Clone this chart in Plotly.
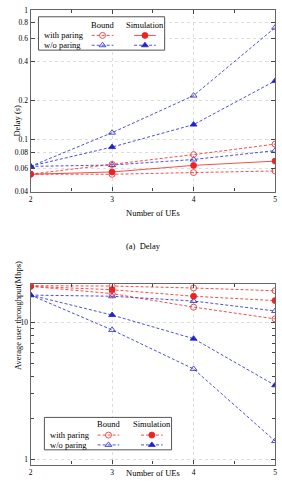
import plotly.graph_objects as go

ues = [2, 3, 4, 5]

# Delay (s)
delay_wp_bound_hi = [0.0545, 0.0647, 0.077, 0.0927]
delay_wp_sim = [0.0543, 0.0566, 0.0636, 0.0686]
delay_wp_bound_lo = [0.0545, 0.0543, 0.056, 0.0576]
delay_wo_bound_hi = [0.0625, 0.1135, 0.219, 0.73]
delay_wo_sim = [0.0628, 0.088, 0.131, 0.284]
delay_wo_bound_lo = [0.0625, 0.064, 0.0706, 0.0826]

# Average user throughput (Mbps)
thr_wp_bound_hi = [18.5, 18.4, 17.8, 17.0]
thr_wp_sim = [18.3, 17.3, 15.5, 14.4]
thr_wp_bound_lo = [18.3, 16.2, 12.9, 10.6]
thr_wo_bound_hi = [15.8, 15.5, 14.3, 12.1]
thr_wo_sim = [15.8, 11.3, 7.6, 3.47]
thr_wo_bound_lo = [15.8, 8.8, 4.57, 1.36]

RED = "#ee2222"
BLUE = "#2222cc"
FONT = "Liberation Serif"

W, H = 282, 500
fig = go.Figure()

def add(x, y, color, sym, dash, xa, ya):
    fig.add_trace(go.Scatter(
        x=x, y=y, mode="lines+markers", xaxis=xa, yaxis=ya, showlegend=False,
        line=dict(color=color, width=0.8, dash=dash),
        marker=dict(symbol=sym, size=6, color=color, line=dict(color=color, width=0.8)),
    ))

# top panel
add(ues, delay_wo_bound_hi, BLUE, "triangle-up-open", "3px,2px", "x", "y")
add(ues, delay_wo_sim, BLUE, "triangle-up", "3px,2px", "x", "y")
add(ues, delay_wo_bound_lo, BLUE, "triangle-up-open", "3px,2px", "x", "y")
add(ues, delay_wp_bound_hi, RED, "circle-open", "3px,2px", "x", "y")
add(ues, delay_wp_sim, RED, "circle", "solid", "x", "y")
add(ues, delay_wp_bound_lo, RED, "circle-open", "3px,2px", "x", "y")

# bottom panel
add(ues, thr_wo_bound_hi, BLUE, "triangle-up-open", "3px,2px", "x2", "y2")
add(ues, thr_wo_sim, BLUE, "triangle-up", "3px,2px", "x2", "y2")
add(ues, thr_wo_bound_lo, BLUE, "triangle-up-open", "3px,2px", "x2", "y2")
add(ues, thr_wp_bound_hi, RED, "circle-open", "3px,2px", "x2", "y2")
add(ues, thr_wp_sim, RED, "circle", "3px,2px", "x2", "y2")
add(ues, thr_wp_bound_lo, RED, "circle-open", "3px,2px", "x2", "y2")

# legend samples on an overlay pixel axis
def leg_sample(x0, x1, y, color, sym, dash):
    fig.add_trace(go.Scatter(
        x=[x0, (x0 + x1) / 2, x1], y=[y, y, y], mode="lines", xaxis="x3", yaxis="y3",
        showlegend=False, line=dict(color=color, width=0.8, dash=dash), hoverinfo="skip"))
    fig.add_trace(go.Scatter(
        x=[(x0 + x1) / 2], y=[y], mode="markers", xaxis="x3", yaxis="y3", showlegend=False,
        marker=dict(symbol=sym, size=6, color=color, line=dict(color=color, width=0.8)),
        hoverinfo="skip"))

shapes = []
annos = []

def legend(bx0, by0, bx1, by1, hy, r1, r2, bcx, scx, sim_dash):
    shapes.append(dict(type="rect", xref="x3", yref="y3", x0=bx0, y0=by0, x1=bx1, y1=by1,
                       line=dict(color="#555", width=1), fillcolor="white", layer="below"))
    annos.append(dict(x=bcx, y=hy, text="Bound"))
    annos.append(dict(x=scx, y=hy, text="Simulation"))
    annos.append(dict(x=bx0 + 4, y=r1, text="with paring", xanchor="left"))
    annos.append(dict(x=bx0 + 4, y=r2, text="w/o paring", xanchor="left"))
    leg_sample(bcx - 11, bcx + 11, r1, RED, "circle-open", "3px,2px")
    leg_sample(bcx - 11, bcx + 11, r2, BLUE, "triangle-up-open", "3px,2px")
    leg_sample(scx - 11, scx + 11, r1, RED, "circle", sim_dash)
    leg_sample(scx - 11, scx + 11, r2, BLUE, "triangle-up", "3px,2px")

legend(37, 13, 165, 47, 21, 32, 42, 102, 145, "solid")
legend(43, 421, 172, 454, 428, 439, 449, 108, 152, "3px,2px")

for a in annos:
    a.update(xref="x3", yref="y3", showarrow=False, font=dict(family=FONT, size=8.5, color="black"))
    a.setdefault("xanchor", "center")

# titles
annos += [
    dict(x=0.03, y=1 - 100 / H, xref="paper", yref="paper", text="Delay (<i>s</i>)", textangle=-90,
         showarrow=False, font=dict(family=FONT, size=8.5, color="black")),
    dict(x=153 / W, y=1 - 213 / H, xref="paper", yref="paper", text="Number of UEs",
         showarrow=False, font=dict(family=FONT, size=8.5, color="black")),
    dict(x=144 / W, y=1 - 246 / H, xref="paper", yref="paper", text="(a)  Delay",
         showarrow=False, font=dict(family=FONT, size=8.5, color="black")),
    dict(x=0.03, y=1 - 375 / H, xref="paper", yref="paper", text="Average user throughput(Mbps)",
         textangle=-90, showarrow=False, font=dict(family=FONT, size=8.5, color="black")),
    dict(x=153 / W, y=1 - 485 / H, xref="paper", yref="paper", text="Number of UEs",
         showarrow=False, font=dict(family=FONT, size=8.5, color="black")),
]

xdom = [29 / W, 277 / W]
tickfont = dict(family=FONT, size=7.5, color="black")
grid = dict(showgrid=True, gridcolor="#dddddd", griddash="dot", gridwidth=0.8)
common_x = dict(domain=xdom, range=[2, 5], tickvals=ues, ticktext=[str(u) for u in ues],
                ticks="inside", ticklen=4, showline=True, linecolor="#666", linewidth=1.2,
                mirror="allticks", tickfont=tickfont, zeroline=False,
                minor=dict(tickvals=[2.5, 3.5, 4.5], ticks="inside", ticklen=3, showgrid=False),
                **grid)

dvals = [0.04, 0.06, 0.08, 0.1, 0.2, 0.4, 0.6, 0.8, 1]
fig.update_layout(
    width=W, height=H, margin=dict(l=0, r=0, t=0, b=0),
    plot_bgcolor="rgba(0,0,0,0)", paper_bgcolor="white",
    xaxis=dict(anchor="y", **common_x),
    yaxis=dict(domain=[1 - 191 / H, 1 - 6 / H], type="log", range=[-1.398, 0],
               tickvals=dvals, ticktext=[("%g" % v) for v in dvals], ticks="inside", ticklen=4,
               showline=True, linecolor="#666", linewidth=1.2, mirror="allticks",
               tickfont=tickfont, zeroline=False, **grid),
    xaxis2=dict(anchor="y2", **common_x),
    yaxis2=dict(domain=[1 - 469 / H, 1 - 285.5 / H], type="log", range=[-0.038, 1.277],
                tickvals=[1, 10], ticktext=["1", "10"], ticks="inside", ticklen=4,
                showline=True, linecolor="#666", linewidth=1.2, mirror="allticks",
                tickfont=tickfont, zeroline=False,
                minor=dict(tickvals=[2, 3, 4, 5, 6, 7, 8, 9, 20], ticks="inside", ticklen=3,
                           showgrid=False),
                **grid),
    xaxis3=dict(domain=[0, 1], range=[0, W], visible=False, fixedrange=True, anchor="y3"),
    yaxis3=dict(domain=[0, 1], range=[H, 0], visible=False, fixedrange=True, anchor="x3"),
    shapes=shapes,
    annotations=annos,
)

fig.write_html("out.html")
